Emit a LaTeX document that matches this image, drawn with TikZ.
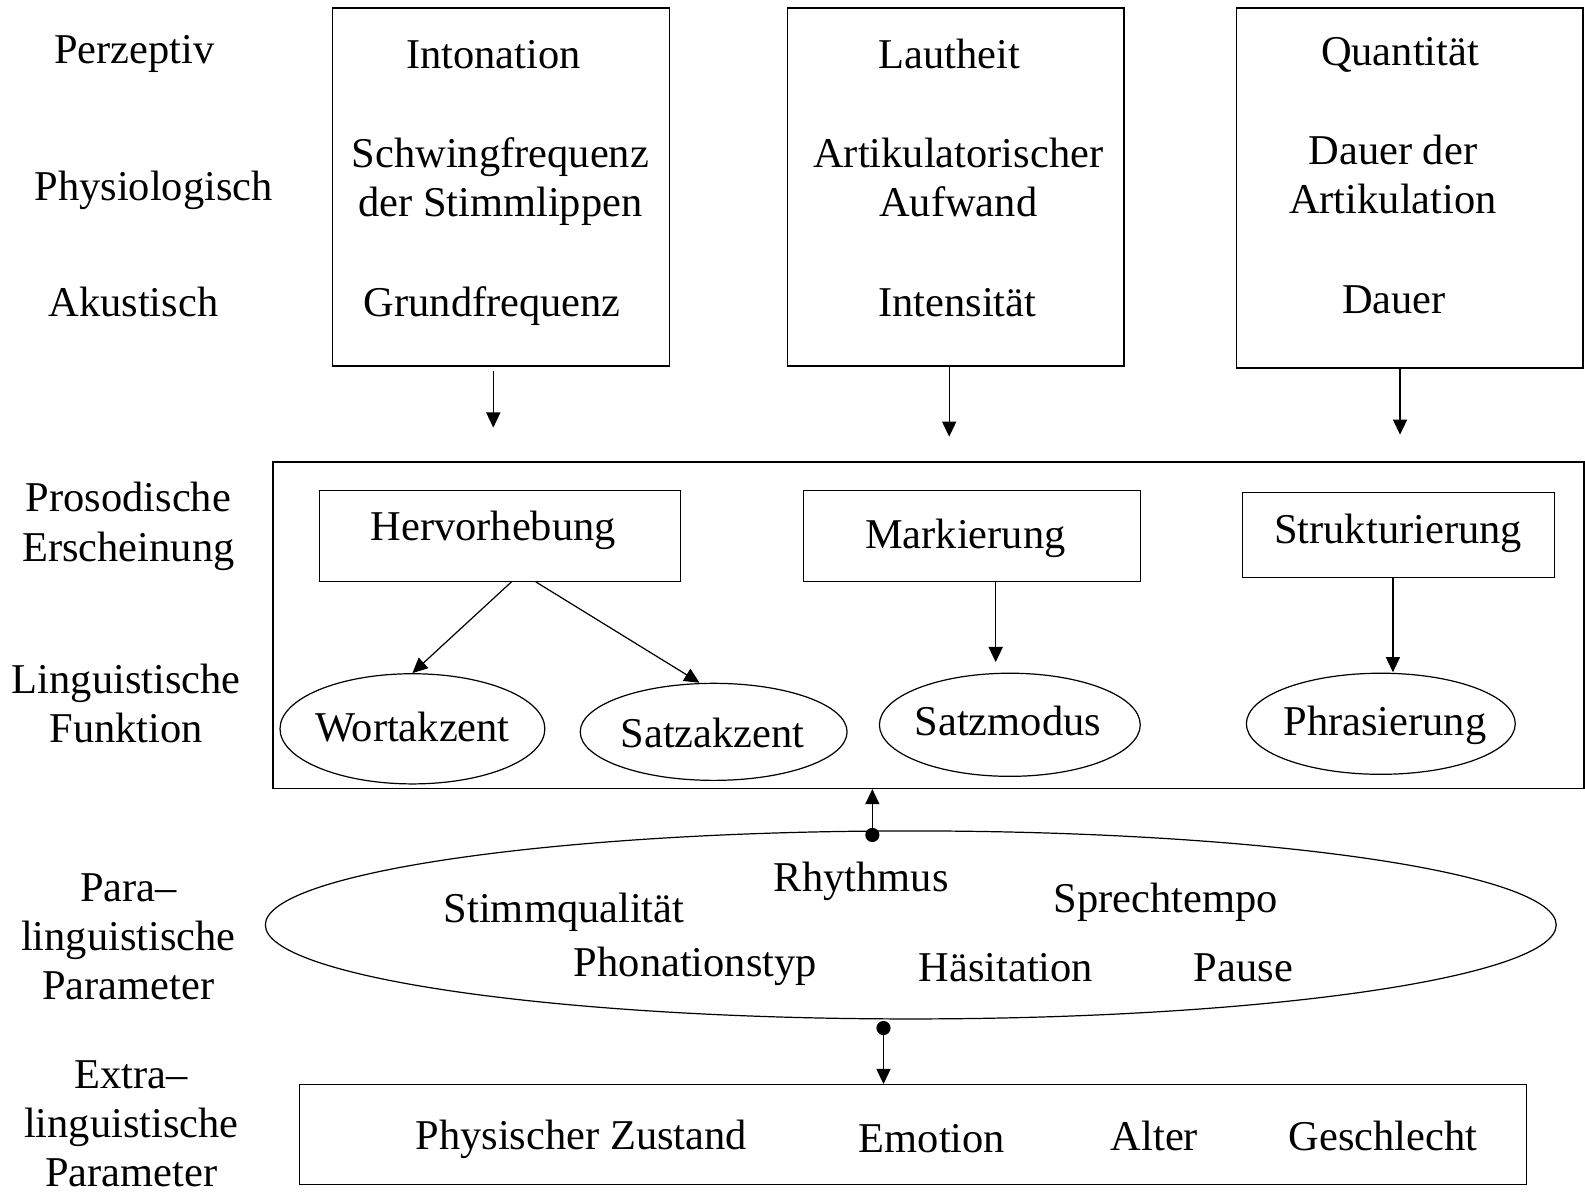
\documentclass[tikz,border=0pt]{standalone}
\usepackage{fontspec}
\setmainfont{Liberation Serif}
\usetikzlibrary{arrows.meta,shapes.geometric}
\tikzset{
  every node/.style={font=\fontsize{42}{48.5}\selectfont, align=center},
  txt/.style={anchor=base},
  frame/.style={draw, rectangle, inner sep=0pt},
  oval/.style={draw, ellipse, inner sep=0pt},
  pfeil/.style={-{Triangle[length=15pt,width=14pt]}},
  punkt/.style={{Circle[length=14pt]}-{Triangle[length=15pt,width=14pt]}},
}
\begin{document}
\begin{tikzpicture}[x=1pt, y=-1pt, line width=1.2pt]
\useasboundingbox (0,0) rectangle (1568,1183);
\node[txt] (perz) at (133, 63) {Perzeptiv};
\node[txt] (phys) at (152, 198) {Physiologisch};
\node[txt] (akus) at (132, 313) {Akustisch};
\node[frame, minimum width=333, minimum height=354] (intonbox) at (495.5, 185) {};
\node[frame, minimum width=333, minimum height=354] (lautbox) at (945.5, 185) {};
\node[frame, minimum width=343, minimum height=356] (quantbox) at (1394.5, 186) {};
\node[txt] (inton) at (488, 68) {Intonation};
\node[txt] (schwing) at (495, 214) {Schwingfrequenz\\der Stimmlippen};
\node[txt] (grund) at (487, 313) {Grundfrequenz};
\node[txt] (laut) at (939, 68) {Lautheit};
\node[txt] (artik) at (948, 214) {Artikulatorischer\\Aufwand};
\node[txt] (intens) at (947, 313) {Intensität};
\node[txt] (quant) at (1385, 65) {Quantität};
\node[txt] (dauerart) at (1378, 211) {Dauer der\\Artikulation};
\node[txt] (dauer) at (1379, 310) {Dauer};
\coordinate (a1) at (488, 423);
\coordinate (a2) at (939, 432);
\coordinate (a3) at (1385, 430);
\draw[pfeil] ([yshift=-4pt]intonbox.south -| a1) -- (a1);
\draw[pfeil] (lautbox.south -| a2) -- (a2);
\draw[pfeil] (quantbox.south -| a3) -- (a3);
\node[frame, minimum width=1297, minimum height=323] (grossbox) at (918.5, 618.5) {};
\node[txt] (prosod) at (127, 555) {Prosodische\\Erscheinung};
\node[txt] (lingfkt) at (125, 735) {Linguistische\\Funktion};
\node[frame, minimum width=357, minimum height=90] (hervbox) at (494.5, 530) {};
\node[frame, minimum width=333, minimum height=90] (markbox) at (961.5, 530) {};
\node[frame, minimum width=309, minimum height=84] (strukbox) at (1383.5, 529) {};
\node[txt] (herv) at (488, 535) {Hervorhebung};
\node[txt] (mark) at (955, 543) {Markierung};
\node[txt] (struk) at (1383, 538) {Strukturierung};
\node[oval, minimum width=262, minimum height=109] (wortoval) at (408, 721) {};
\node[oval, minimum width=264, minimum height=96] (satzoval) at (706, 724) {};
\node[oval, minimum width=258, minimum height=102] (modusoval) at (999, 717) {};
\node[oval, minimum width=266, minimum height=100] (phrasoval) at (1366, 716) {};
\node[txt] (wort) at (408, 734) {Wortakzent};
\node[txt] (satz) at (705, 739) {Satzakzent};
\node[txt] (modus) at (997, 728) {Satzmodus};
\node[txt] (phras) at (1370, 728) {Phrasierung};
\coordinate (b3) at (985, 655);
\coordinate (b4) at (1378, 665);
\draw[pfeil] ([xshift=11.5pt]hervbox.south) -- (wortoval.north);
\draw[pfeil] ([xshift=35.5pt]hervbox.south) -- ([xshift=-14pt]satzoval.north);
\draw[pfeil] (markbox.south -| b3) -- (b3);
\draw[pfeil] (strukbox.south -| b4) -- (b4);
\node[oval, minimum width=1277, minimum height=186] (paraoval) at (901, 915) {};
\node[txt] (para) at (127, 989) {Para--\\linguistische\\Parameter};
\node[txt] (rhyth) at (852, 882) {Rhythmus};
\node[txt] (stimmq) at (558, 913) {Stimmqualität};
\node[txt] (tempo) at (1153, 903) {Sprechtempo};
\node[txt] (phonat) at (688, 966) {Phonationstyp};
\node[txt] (haesit) at (995, 971) {Häsitation};
\node[txt] (pause) at (1230, 971) {Pause};
\coordinate (d1) at (863, 833);
\coordinate (d2) at (874, 1010);
\draw[punkt] (d1) -- (d1 |- grossbox.south);
\node[frame, minimum width=1214, minimum height=99] (extrabox) at (903, 1122.5) {};
\draw[punkt] (d2) -- (d2 |- extrabox.north);
\node[txt] (extra) at (130, 1174) {Extra--\\linguistische\\Parameter};
\node[txt] (physis) at (575, 1137) {Physischer Zustand};
\node[txt] (emot) at (922, 1140) {Emotion};
\node[txt] (alter) at (1142, 1138) {Alter};
\node[txt] (geschl) at (1368, 1138) {Geschlecht};
\end{tikzpicture}
\end{document}
